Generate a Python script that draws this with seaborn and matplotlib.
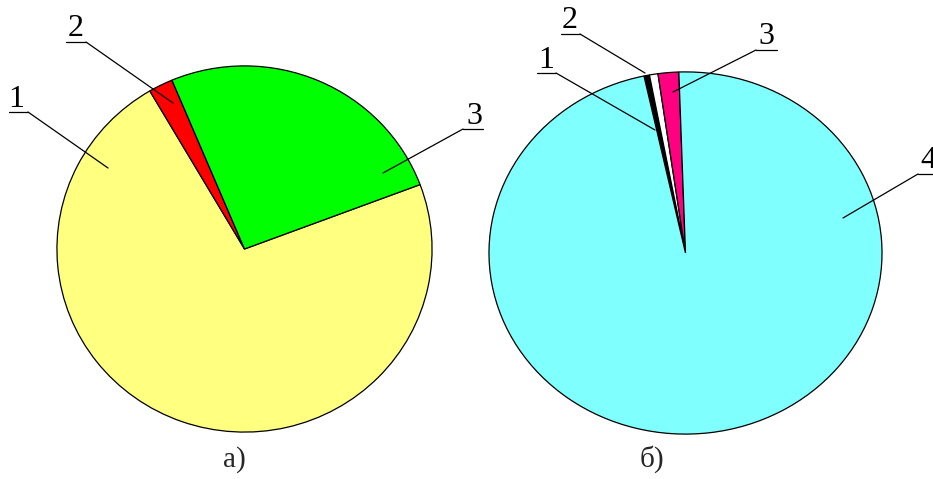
import matplotlib
matplotlib.use("Agg")
import matplotlib.pyplot as plt
import seaborn as sns

sns.set_theme(style="white")
plt.rcParams['font.family'] = ['Liberation Serif', 'DejaVu Serif']

# Data (shares in percent)
labels_a = ["1", "2", "3"]
values_a = [72.3, 2.1, 25.6]
colors_a = ["#FFFF80", "#FF0000", "#00FF00"]

labels_b = ["1", "2", "3", "4"]
values_b = [0.45, 0.7, 1.7, 97.15]
colors_b = ["#000000", "#FFFFFF", "#FF0080", "#80FFFF"]

captions = ["а)", "б)"]

W, H = 933, 479
fig = plt.figure(figsize=(W / 100, H / 100), dpi=100)
fig.patch.set_facecolor("white")


def pie_axes(x0, y0, x1, y1):
    return fig.add_axes([x0 / W, (H - y1) / H, (x1 - x0) / W, (y1 - y0) / H])


wp = dict(edgecolor="black", linewidth=0.9)

ax1 = pie_axes(56, 65, 433, 433)
ax1.pie(values_a, colors=colors_a, startangle=20.6, counterclock=False,
        radius=1, wedgeprops=wp)
ax1.set_xlim(-1.005, 1.005)
ax1.set_ylim(-1.005, 1.005)
ax1.set_aspect("auto")
ax1.axis("off")

ax2 = pie_axes(488, 71, 883, 435)
ax2.pie(values_b, colors=colors_b, startangle=102.2, counterclock=False,
        radius=1, wedgeprops=wp)
ax2.set_xlim(-1.005, 1.005)
ax2.set_ylim(-1.005, 1.005)
ax2.set_aspect("auto")
ax2.axis("off")

# Overlay for callouts
ov = fig.add_axes([0, 0, 1, 1], zorder=5)
ov.set_xlim(0, W)
ov.set_ylim(H, 0)
ov.patch.set_alpha(0)
ov.axis("off")

callouts = [
    # label, text center, underline (x0, x1, y), line start, line end
    ("1", (16, 99), (9, 28, 112), (28, 112), (108, 168)),
    ("2", (76, 28), (66, 86, 42), (86, 42), (173, 103)),
    ("3", (474, 116), (463, 483, 129), (463, 129), (383, 173)),
    ("1", (546, 60), (537, 556, 73), (556, 73), (655, 130)),
    ("2", (570, 20), (561, 580, 34), (580, 34), (645, 73)),
    ("3", (766, 36), (756, 777, 50), (756, 50), (673, 92)),
    ("4", (928, 160), (918, 940, 174), (918, 174), (843, 218)),
]
for lab, (tx, ty), (ux0, ux1, uy), (sx, sy), (ex, ey) in callouts:
    ov.text(tx, ty, lab, ha="center", va="center", fontsize=23, color="black")
    ov.plot([ux0, ux1], [uy, uy], color="black", lw=0.9)
    ov.plot([sx, ex], [sy, ey], color="black", lw=0.9)

ov.text(234, 460, captions[0], ha="center", va="center", fontsize=21)
ov.text(652, 459, captions[1], ha="center", va="center", fontsize=21)

fig.savefig("out.png", dpi=100, facecolor="white")
